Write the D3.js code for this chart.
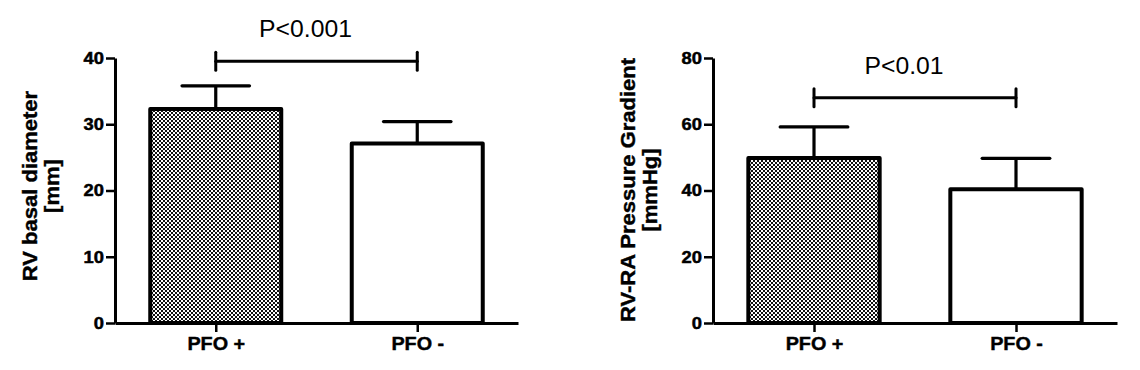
<!DOCTYPE html>
<html>
<head>
<meta charset="utf-8">
<script src="https://cdn.jsdelivr.net/npm/d3@7"></script>
<style>
  html, body { margin: 0; padding: 0; background: #fff; }
  svg { display: block; }
</style>
</head>
<body>
<svg id="chart" width="1140" height="370"></svg>
<script>
// ---- data ----
const categories = ["PFO +", "PFO -"];
const diameterMean = [32.3, 27.1];
const diameterSD = [3.5, 3.3];
const gradientMean = [49.8, 40.4];
const gradientSD = [9.4, 9.3];
const diameterTicks = [0, 10, 20, 30, 40];
const gradientTicks = [0, 20, 40, 60, 80];
const pLabels = ["P<0.001", "P<0.01"];
const sigLevels = [39.5, 68];

const svg = d3.select("#chart");
const defs = svg.append("defs");
const pat = defs.append("pattern").attr("id", "checker")
  .attr("patternUnits", "userSpaceOnUse").attr("width", 4).attr("height", 4);
pat.append("rect").attr("width", 4).attr("height", 4).attr("fill", "#fff");
pat.append("rect").attr("x", 0).attr("y", 0).attr("width", 2).attr("height", 2).attr("fill", "#111");
pat.append("rect").attr("x", 2).attr("y", 2).attr("width", 2).attr("height", 2).attr("fill", "#111");

const FONT = "'Liberation Sans', Arial, Helvetica, sans-serif";

function panel(cfg) {
  const g = svg.append("g").attr("transform", `translate(${cfg.left},0)`);
  const x = d3.scalePoint().domain(categories).range([0, cfg.width]).padding(0.5);
  const y = d3.scaleLinear().domain([0, cfg.ticks[cfg.ticks.length - 1]]).range([323, 58]);
  const bw = x.step() * 0.67;
  const capW = bw * 0.5;

  // error bars (upper only)
  const eb = g.append("g").attr("stroke", "#000").attr("stroke-width", 3.2);
  categories.forEach((c, i) => {
    const cx = x(c);
    eb.append("line").attr("x1", cx).attr("x2", cx)
      .attr("y1", y(cfg.mean[i])).attr("y2", y(cfg.mean[i] + cfg.sd[i]));
    eb.append("line").attr("x1", cx - capW / 2).attr("x2", cx + capW / 2)
      .attr("y1", y(cfg.mean[i] + cfg.sd[i])).attr("y2", y(cfg.mean[i] + cfg.sd[i]))
      .attr("stroke-linecap", "round");
  });

  // bars
  g.selectAll("rect.bar").data(categories).join("rect")
    .attr("class", "bar")
    .attr("x", d => x(d) - bw / 2 + 2)
    .attr("width", bw - 4)
    .attr("y", (d, i) => y(cfg.mean[i]))
    .attr("height", (d, i) => y(0) - y(cfg.mean[i]))
    .attr("fill", (d, i) => i === 0 ? "url(#checker)" : "#fff")
    .attr("stroke", "#000").attr("stroke-width", 4)
    .attr("stroke-linejoin", "round");

  // y axis
  const ya = g.append("g")
    .call(d3.axisLeft(y).tickValues(cfg.ticks).tickSize(9).tickSizeOuter(0).tickPadding(2));
  ya.select(".domain").attr("stroke-width", 3);
  ya.selectAll(".tick line").attr("stroke-width", 2.5);
  ya.selectAll(".tick text")
    .attr("font-family", FONT).attr("font-weight", "bold").attr("font-size", 17)
    .attr("fill", "#000").attr("stroke", "#000").attr("stroke-width", 0.5)
    .attr("x", -11 / 1.08)
    .attr("transform", "scale(1.08,1)");

  // x axis
  const xa = g.append("g").attr("transform", `translate(0,${y(0)})`)
    .call(d3.axisBottom(x).tickSize(9).tickSizeOuter(0).tickPadding(5));
  xa.select(".domain").attr("stroke-width", 3);
  xa.selectAll(".tick line").attr("stroke-width", 2.5);
  xa.selectAll(".tick text")
    .attr("font-family", FONT).attr("font-weight", "bold").attr("font-size", 18)
    .attr("fill", "#000").attr("stroke", "#000").attr("stroke-width", 0.4)
    .attr("transform", "scale(1.1,1)")
    .attr("x", 0);

  // y label
  cfg.ylabel.forEach((line, i) => {
    g.append("text")
      .attr("transform", `translate(${cfg.ylabelX[i] - cfg.left},${cfg.ylabelY}) rotate(-90) scale(1.1,1)`)
      .attr("text-anchor", "middle")
      .attr("font-family", FONT).attr("font-weight", "bold").attr("font-size", 20)
      .attr("fill", "#000").attr("stroke", "#000").attr("stroke-width", 0.4)
      .text(line);
  });

  // significance bracket
  const sy = y(cfg.sig);
  const x1 = x(categories[0]), x2 = x(categories[1]);
  const sg = g.append("g").attr("stroke", "#000").attr("stroke-width", 3).attr("stroke-linecap", "round");
  sg.append("line").attr("x1", x1).attr("x2", x2).attr("y1", sy).attr("y2", sy);
  sg.append("line").attr("x1", x1).attr("x2", x1).attr("y1", sy - 9).attr("y2", sy + 9);
  sg.append("line").attr("x1", x2).attr("x2", x2).attr("y1", sy - 9).attr("y2", sy + 9);
  g.append("text")
    .attr("transform", `translate(${(x1 + x2) / 2 - 11},${sy - 24}) scale(1.03,1)`)
    .attr("text-anchor", "middle")
    .attr("font-family", FONT).attr("font-size", 24).attr("fill", "#000")
    .text(cfg.p);
}

panel({
  left: 115, width: 403, ticks: diameterTicks,
  mean: diameterMean, sd: diameterSD,
  ylabel: ["RV basal diameter", "[mm]"], ylabelX: [37, 59], ylabelY: 186,
  sig: sigLevels[0], p: pLabels[0]
});
panel({
  left: 713, width: 404, ticks: gradientTicks,
  mean: gradientMean, sd: gradientSD,
  ylabel: ["RV-RA Pressure Gradient", "[mmHg]"], ylabelX: [635, 657], ylabelY: 190,
  sig: sigLevels[1], p: pLabels[1]
});
</script>
</body>
</html>
